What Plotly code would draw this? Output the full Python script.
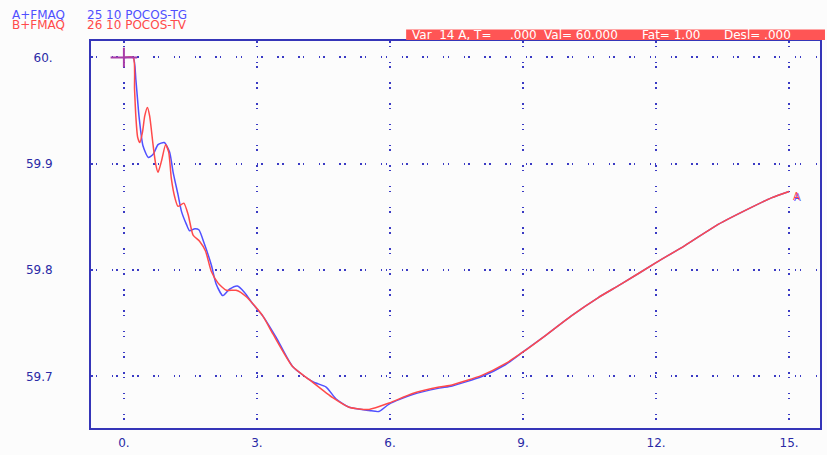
import plotly.graph_objects as go

# ---- data ----
t_tg = [0.00, 0.21, 0.27, 0.34, 0.43, 0.55, 0.66, 0.77, 0.91, 1.03, 1.11, 1.22, 1.30, 1.41,
        1.48, 1.60, 1.69, 1.82, 1.97, 2.08, 2.23, 2.38, 2.56, 2.72, 2.91, 3.13, 3.43, 3.81,
        4.26, 4.56, 4.78, 5.08, 5.53, 5.75, 5.98, 6.51, 7.11, 7.40, 8.07, 8.60, 9.00, 9.49,
        10.09, 10.69, 11.22, 12.00, 12.65, 13.40, 14.15, 14.60, 15.00]
f_tg = [60.000, 60.000, 59.979, 59.945, 59.917, 59.906, 59.909, 59.918, 59.920, 59.911, 59.892,
        59.871, 59.855, 59.843, 59.837, 59.839, 59.838, 59.824, 59.805, 59.787, 59.776, 59.782,
        59.785, 59.779, 59.768, 59.757, 59.737, 59.709, 59.695, 59.690, 59.679, 59.671, 59.668,
        59.667, 59.674, 59.683, 59.689, 59.691, 59.700, 59.711, 59.723, 59.738, 59.757, 59.774,
        59.787, 59.807, 59.823, 59.843, 59.859, 59.868, 59.874]

t_tv = [0.00, 0.21, 0.24, 0.27, 0.31, 0.36, 0.42, 0.47, 0.53, 0.58, 0.66, 0.72, 0.77, 0.85,
        0.94, 1.01, 1.07, 1.15, 1.22, 1.35, 1.45, 1.56, 1.71, 1.84, 1.97, 2.12, 2.31, 2.53,
        2.76, 3.13, 3.36, 3.81, 4.18, 4.71, 5.08, 5.53, 5.98, 6.51, 7.11, 7.40, 8.07, 8.60,
        9.00, 9.49, 10.09, 10.69, 11.22, 12.00, 12.65, 13.40, 14.15, 14.60, 15.00]
f_tv = [60.000, 60.000, 59.970, 59.944, 59.925, 59.920, 59.930, 59.945, 59.953, 59.945, 59.917,
        59.899, 59.892, 59.903, 59.918, 59.911, 59.886, 59.868, 59.860, 59.863, 59.852, 59.833,
        59.827, 59.818, 59.799, 59.788, 59.781, 59.781, 59.775, 59.757, 59.740, 59.709, 59.697,
        59.680, 59.671, 59.669, 59.675, 59.684, 59.690, 59.692, 59.701, 59.712, 59.723, 59.738,
        59.757, 59.774, 59.787, 59.807, 59.823, 59.843, 59.859, 59.868, 59.874]

x_ticks = [0, 3, 6, 9, 12, 15]
x_tick_text = ["0.", "3.", "6.", "9.", "12.", "15."]
y_ticks = [59.7, 59.8, 59.9, 60.0]
y_tick_text = ["59.7", "59.8", "59.9", "60."]

legend_a = ["A+FMAQ", "25 10 POCOS-TG"]
legend_b = ["B+FMAQ", "26 10 POCOS-TV"]
status_parts = ["Var  14 A, T=", ".000", "Val= 60.000", "Fat= 1.00", "Desl= .000"]

# ---- styling ----
W, H = 827, 455
L, R, T, B = 91, 5, 41, 23
FONT = "DejaVu Sans"
BLUE = "#5050ff"
RED = "#ff4a4a"
AXBLUE = "#3535b8"
TXTBLUE = "#2a2aa6"
CROSS = "#a83ca8"


def px(xp):
    return (xp - L) / (W - L - R)


def py(yp):
    return (H - B - yp) / (H - T - B)


fig = go.Figure()
fig.add_trace(go.Scatter(x=t_tg, y=f_tg, mode="lines",
                         line=dict(color=BLUE, width=1.5, shape="spline", smoothing=0.6),
                         hoverinfo="skip"))
fig.add_trace(go.Scatter(x=t_tv, y=f_tv, mode="lines",
                         line=dict(color=RED, width=1.5, shape="spline", smoothing=0.6),
                         hoverinfo="skip"))
# cursor cross at the first point (wider than tall)
fig.add_trace(go.Scatter(x=[t_tg[0]], y=[f_tg[0]], mode="markers",
                         marker=dict(symbol="line-ew", size=19,
                                     line=dict(color=CROSS, width=2)),
                         hoverinfo="skip"))
fig.add_trace(go.Scatter(x=[t_tg[0]], y=[f_tg[0]], mode="markers",
                         marker=dict(symbol="line-ns", size=14,
                                     line=dict(color=CROSS, width=2)),
                         hoverinfo="skip"))

grid = dict(showgrid=True, gridcolor="#3a3ac4", gridwidth=1.5,
            griddash="1.5px,3.2px,1.5px,14.5px", zeroline=False,
            showline=True, mirror=True, linecolor=AXBLUE, linewidth=2, ticks="",
            tickfont=dict(family=FONT, size=12, color=TXTBLUE))

fig.update_xaxes(range=[-0.742, 15.697], tickvals=x_ticks, ticktext=x_tick_text,
                 ticklabelstandoff=3, **grid)
fig.update_yaxes(range=[59.6515, 60.0155], tickvals=y_ticks, ticktext=y_tick_text,
                 ticklabelstandoff=34, **grid)

annotations = []
# header legend
for row, (names, col, yc) in enumerate([(legend_a, BLUE, 15), (legend_b, RED, 24.5)]):
    for txt, xl in zip(names, [10, 85]):
        annotations.append(dict(text=txt, x=px(xl), y=py(yc), xref="paper", yref="paper",
                                xanchor="left", yanchor="middle", showarrow=False,
                                font=dict(family=FONT, size=12, color=col)))
# status bar text
for txt, xl in zip(status_parts, [411, 509, 543, 642, 724]):
    annotations.append(dict(text=txt, x=px(xl), y=py(35), xref="paper", yref="paper",
                            xanchor="left", yanchor="middle", showarrow=False,
                            font=dict(family=FONT, size=12, color="white")))
# end labels "A"
annotations.append(dict(text="A", x=t_tg[-1], y=f_tg[-1], xref="x", yref="y",
                        xanchor="left", yanchor="top", showarrow=False, xshift=3, yshift=1,
                        font=dict(family=FONT, size=10, color=BLUE)))
annotations.append(dict(text="A", x=t_tv[-1], y=f_tv[-1], xref="x", yref="y",
                        xanchor="left", yanchor="top", showarrow=False, xshift=2, yshift=2,
                        font=dict(family=FONT, size=10, color=RED)))

fig.update_layout(
    width=W, height=H,
    margin=dict(l=L, r=R, t=T, b=B, pad=0),
    paper_bgcolor="#fcfcfc", plot_bgcolor="#fcfcfc",
    showlegend=False,
    font=dict(family=FONT, size=12),
    annotations=annotations,
    shapes=[dict(type="rect", xref="paper", yref="paper",
                 x0=px(407), x1=px(827), y0=py(40), y1=py(29.5),
                 fillcolor="#ff5555", line=dict(width=0), layer="above")],
)

fig.write_html("out.html", config={"displayModeBar": False},
               post_script="document.body.style.margin='0';document.body.style.background='#fcfcfc';")
